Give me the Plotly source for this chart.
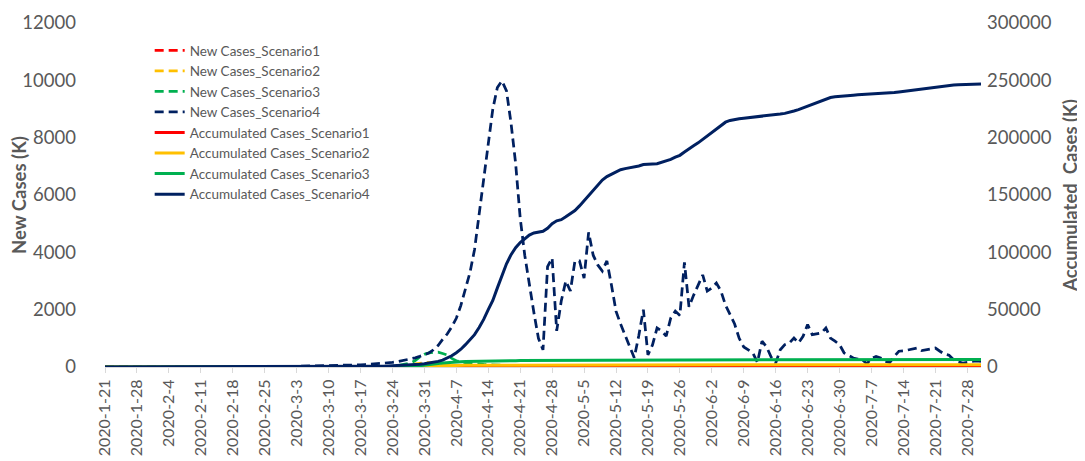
import pandas as pd
import plotly.graph_objects as go

# daily dates 2020-1-21 .. 2020-7-31
dates = pd.date_range("2020-01-21", "2020-07-31", freq="D")
tick_dates = dates[::7]
tick_labels = [f"{d.year}-{d.month}-{d.day}" for d in tick_dates]

# new cases (K), left axis
new_s1 = [0] * 10 + [0] * 10 + [0] * 10 + [0] * 10 + [0] * 10 + [0] * 10 + [
    0, 2, 3, 5, 10, 18, 26, 34, 41, 47,
    50, 50, 46, 40, 33, 26, 20, 15, 11, 8,
    6, 5, 5, 4, 4, 4, 3, 3, 3, 3,
    3, 2, 2, 2, 2, 2, 2, 2, 2, 2,
    2, 2, 2, 2, 2, 2, 2, 2, 2, 2,
    2, 2, 2, 2, 2, 2, 2, 2, 2, 2,
    1, 1, 1, 1, 1, 1, 1, 1, 1, 1,
    1, 1, 1, 1, 1, 1, 1, 1, 1, 1,
    1, 1, 1, 1, 1, 1, 1, 1, 1, 1,
    1, 1, 1, 1, 1, 1, 1, 1, 1, 1,
    1, 1, 1, 1, 1, 1, 1, 1, 1, 1,
    1, 1, 1, 1, 1, 1, 1, 1, 1, 1,
    1, 1, 1, 1, 1, 1, 1, 1, 1, 1,
    1, 1, 1]

new_s2 = [0] * 10 + [0] * 10 + [0] * 10 + [0] * 10 + [0] * 10 + [0] * 10 + [
    0, 5, 10, 20, 35, 55, 80, 105, 125, 140,
    150, 150, 140, 125, 105, 85, 65, 50, 40, 32,
    26, 22, 19, 17, 15, 14, 13, 12, 11, 10,
    10, 9, 9, 8, 8, 8, 7, 7, 7, 7,
    6, 6, 6, 6, 6, 5, 5, 5, 5, 5,
    5, 5, 5, 5, 5, 4, 4, 4, 4, 4,
    4, 4, 4, 4, 4, 4, 4, 4, 4, 4,
    3, 3, 3, 3, 3, 3, 3, 3, 3, 3,
    3, 3, 3, 3, 3, 3, 3, 3, 3, 3,
    3, 3, 3, 3, 3, 3, 3, 3, 3, 3,
    3, 3, 3, 3, 3, 2, 2, 2, 2, 2,
    2, 2, 2, 2, 2, 2, 2, 2, 2, 2,
    2, 2, 2, 2, 2, 2, 2, 2, 2, 2,
    2, 2, 2]

new_s3 = [0] * 10 + [0] * 10 + [0] * 10 + [0] * 10 + [0] * 10 + [
    1, 1, 2, 2, 3, 3, 4, 5, 6, 8,
    10, 12, 15, 20, 40, 70, 100, 140, 220, 350,
    440, 490, 510, 520, 470, 420, 300, 220, 170, 150,
    130, 110, 100, 90, 80, 70, 65, 60, 55, 50,
    46, 42, 38, 35, 32, 30, 28, 26, 24, 22,
    20, 18, 18, 17, 17, 16, 16, 15, 15, 14,
    14, 13, 13, 12, 12, 12, 11, 11, 11, 10,
    10, 10, 9, 9, 9, 9, 8, 8, 8, 8,
    7, 7, 7, 7, 7, 6, 6, 6, 6, 6,
    6, 6, 5, 5, 5, 5, 5, 5, 5, 5,
    5, 5, 5, 5, 4, 4, 4, 4, 4, 4,
    4, 4, 4, 4, 4, 4, 3, 3, 3, 3,
    3, 3, 3, 3, 3, 3, 3, 3, 3, 3,
    3, 3, 3, 3, 3, 3, 3, 3, 3, 3,
    3, 3, 3]

new_s4 = [
    1, 1, 2, 2, 2, 3, 3, 3, 4, 4,
    4, 5, 5, 5, 5, 6, 6, 6, 6, 7,
    7, 7, 8, 8, 8, 9, 9, 10, 10, 11,
    11, 12, 12, 13, 14, 15, 16, 17, 18, 20,
    22, 24, 26, 28, 30, 33, 36, 39, 42, 45,
    48, 52, 56, 60, 65, 70, 75, 85, 95, 110,
    130, 140, 145, 160, 180, 210, 250, 290, 320, 370,
    420, 490, 600, 750, 960, 1150, 1400, 1700, 2150, 2700,
    3300, 4100, 5350, 6500, 7700, 9000, 9750, 9980, 9630, 8500,
    7100, 5200, 3900, 2850, 1900, 1000, 600, 3500, 3800, 1260,
    2300, 3000, 2650, 3700, 3700, 3100, 4700, 3900, 3560, 3350,
    3700, 2860, 1950, 1500, 1100, 730, 320, 1100, 2000, 420,
    770, 1360, 1260, 1080, 1710, 1950, 1800, 3650, 2100, 2500,
    2860, 3210, 2650, 2760, 2930, 2650, 2160, 1800, 1500, 1000,
    700, 600, 490, 160, 900, 700, 350, 140, 600, 780,
    840, 1010, 840, 1070, 1480, 1130, 1150, 1190, 1360, 1010,
    900, 780, 490, 400, 314, 280, 250, 115, 300, 370,
    314, 200, 160, 370, 550, 560, 600, 630, 660, 570,
    600, 630, 660, 550, 450, 410, 250, 180, 140, 160,
    200, 210, 200]

# accumulated cases (K), right axis
acc_s1 = [0] * 10 + [0] * 10 + [0] * 10 + [0] * 10 + [0] * 10 + [0] * 10 + [
    0, 2, 5, 10, 20, 38, 64, 98, 139, 186,
    236, 286, 332, 372, 405, 431, 451, 466, 477, 485,
    491, 496, 501, 505, 509, 513, 516, 519, 522, 525,
    528, 530, 532, 534, 536, 538, 540, 542, 544, 546,
    548, 550, 552, 554, 556, 558, 560, 562, 564, 566,
    568, 570, 572, 574, 576, 578, 580, 582, 584, 586,
    587, 588, 589, 590, 591, 592, 593, 594, 595, 596,
    597, 598, 599, 600, 601, 602, 603, 604, 605, 606,
    607, 608, 609, 610, 611, 612, 613, 614, 615, 616,
    617, 618, 619, 620, 621, 622, 623, 624, 625, 626,
    627, 628, 629, 630, 631, 632, 633, 634, 635, 636,
    637, 638, 639, 640, 641, 642, 643, 644, 645, 646,
    647, 648, 649, 650, 651, 652, 653, 654, 655, 656,
    657, 658, 659]

acc_s2 = [0] * 10 + [0] * 10 + [0] * 10 + [0] * 10 + [0] * 10 + [0] * 10 + [
    0, 5, 15, 35, 70, 125, 205, 310, 435, 575,
    725, 875, 1015, 1140, 1245, 1330, 1395, 1445, 1485, 1517,
    1543, 1565, 1584, 1601, 1616, 1630, 1643, 1655, 1666, 1676,
    1686, 1695, 1704, 1712, 1720, 1728, 1735, 1742, 1749, 1756,
    1762, 1768, 1774, 1780, 1786, 1791, 1796, 1801, 1806, 1811,
    1816, 1821, 1826, 1831, 1836, 1840, 1844, 1848, 1852, 1856,
    1860, 1864, 1868, 1872, 1876, 1880, 1884, 1888, 1892, 1896,
    1899, 1902, 1905, 1908, 1911, 1914, 1917, 1920, 1923, 1926,
    1929, 1932, 1935, 1938, 1941, 1944, 1947, 1950, 1953, 1956,
    1959, 1962, 1965, 1968, 1971, 1974, 1977, 1980, 1983, 1986,
    1989, 1992, 1995, 1998, 2001, 2003, 2005, 2007, 2009, 2011,
    2013, 2015, 2017, 2019, 2021, 2023, 2025, 2027, 2029, 2031,
    2033, 2035, 2037, 2039, 2041, 2043, 2045, 2047, 2049, 2051,
    2053, 2055, 2057]

acc_s3 = [0] * 10 + [0] * 10 + [0] * 10 + [0] * 10 + [0] * 10 + [
    1, 2, 4, 6, 9, 12, 16, 21, 27, 35,
    45, 57, 72, 92, 132, 202, 302, 442, 662, 1012,
    1452, 1942, 2452, 2972, 3442, 3862, 4162, 4382, 4552, 4702,
    4832, 4942, 5042, 5132, 5212, 5282, 5347, 5407, 5462, 5512,
    5558, 5600, 5638, 5673, 5705, 5735, 5763, 5789, 5813, 5835,
    5855, 5873, 5891, 5908, 5925, 5941, 5957, 5972, 5987, 6001,
    6015, 6028, 6041, 6053, 6065, 6077, 6088, 6099, 6110, 6120,
    6130, 6140, 6149, 6158, 6167, 6176, 6184, 6192, 6200, 6208,
    6215, 6222, 6229, 6236, 6243, 6249, 6255, 6261, 6267, 6273,
    6279, 6285, 6290, 6295, 6300, 6305, 6310, 6315, 6320, 6325,
    6330, 6335, 6340, 6345, 6349, 6353, 6357, 6361, 6365, 6369,
    6373, 6377, 6381, 6385, 6389, 6393, 6396, 6399, 6402, 6405,
    6408, 6411, 6414, 6417, 6420, 6423, 6426, 6429, 6432, 6435,
    6438, 6441, 6444, 6447, 6450, 6453, 6456, 6459, 6462, 6465,
    6468, 6471, 6474]

acc_s4 = [
    0, 1, 1, 2, 3, 4, 5, 6, 8, 10,
    12, 14, 17, 20, 23, 26, 30, 34, 38, 42,
    46, 51, 56, 61, 66, 72, 78, 84, 90, 97,
    104, 111, 118, 126, 134, 142, 151, 160, 170, 180,
    190, 201, 212, 224, 236, 249, 262, 276, 290, 305,
    320, 336, 352, 369, 386, 404, 422, 442, 465, 490,
    600, 700, 850, 1000, 1200, 1400, 1600, 1800, 2050, 2400,
    2800, 3300, 4000, 4900, 6000, 7800, 9800, 12500, 15500, 19500,
    23500, 28200, 34500, 41500, 50000, 58000, 69000, 80000, 90000, 98000,
    104000, 108500, 112000, 115000, 116900, 117800, 118300, 121000, 125000, 127500,
    128500, 131000, 133800, 136500, 140500, 145000, 150000, 154600, 159000, 163000,
    166000, 168000, 170000, 172000, 173000, 173600, 174200, 175300, 176500, 177000,
    177000, 177300, 178500, 179600, 181000, 183000, 184600, 187500, 190500, 193000,
    195500, 198500, 201500, 204500, 207500, 211000, 213500, 215000, 216000, 216500,
    217000, 217400, 217800, 218100, 218400, 218800, 219300, 220000, 220600, 221200,
    222000, 223300, 224500, 226000, 228000, 229600, 231000, 232200, 233500, 235000,
    235600, 235800, 236000, 236500, 237000, 237400, 237600, 237800, 238000, 238100,
    238400, 238700, 238900, 239400, 239900, 240400, 240800, 241400, 242000, 242600,
    243200, 243700, 244300, 244900, 245400, 245800, 246000, 246100, 246200, 246300,
    246500, 246600, 246800]

for s in [new_s1, new_s2, new_s3, new_s4, acc_s1, acc_s2, acc_s3, acc_s4]:
    assert len(s) == len(dates), len(s)

colors = ["#FF0000", "#FFC000", "#00B050", "#002060"]
new_names = ["New Cases_Scenario%d" % i for i in range(1, 5)]
acc_names = ["Accumulated Cases_Scenario%d" % i for i in range(1, 5)]

fig = go.Figure()

for name, ys, c in zip(new_names, [new_s1, new_s2, new_s3, new_s4], colors):
    fig.add_trace(go.Scatter(x=dates, y=ys, name=name, mode="lines",
                             line=dict(color=c, width=2.75, dash="9px,5px")))

for name, ys, c in zip(acc_names, [acc_s1, acc_s2, acc_s3, acc_s4], colors):
    fig.add_trace(go.Scatter(x=dates, y=ys, name=name, mode="lines", yaxis="y2",
                             line=dict(color=c, width=3)))

grey = "#595959"
font = "Lato"

fig.update_layout(
    width=1085, height=461,
    margin=dict(l=97, r=112, t=15, b=102),
    paper_bgcolor="white", plot_bgcolor="white",
    font=dict(family=font, color=grey),
    showlegend=True,
    legend=dict(x=0.051, y=0.965, xanchor="left", yanchor="top",
                bgcolor="rgba(0,0,0,0)", font=dict(size=13.5, color=grey),
                tracegroupgap=0),
    xaxis=dict(
        range=[dates[0], dates[-1]],
        tickvals=tick_dates, ticktext=tick_labels,
        tickangle=-90, tickfont=dict(size=16, color=grey),
        showgrid=False, zeroline=False,
        showline=True, linecolor="#d9d9d9", linewidth=1,
        ticks="outside", ticklen=5, tickcolor="#d9d9d9",
        automargin=False,
    ),
    yaxis=dict(
        range=[0, 12000], dtick=2000, tickformat="d",
        showgrid=False, zeroline=False, showline=False,
        tickfont=dict(size=18.5, color=grey),
        ticklabelstandoff=28,
        title=dict(text="<b>New Cases (K)</b>", font=dict(size=18.5, color=grey), standoff=5),
        automargin=False,
    ),
    yaxis2=dict(
        range=[0, 300000], dtick=50000, tickformat="d",
        overlaying="y", side="right",
        showgrid=False, zeroline=False, showline=False,
        tickfont=dict(size=18.5, color=grey),
        ticklabelstandoff=5,
        title=dict(text="<b>Accumulated\u00a0 Cases (K)</b>", font=dict(size=18.5, color=grey), standoff=13),
        automargin=False,
    ),
)

fig.write_html("out.html")
